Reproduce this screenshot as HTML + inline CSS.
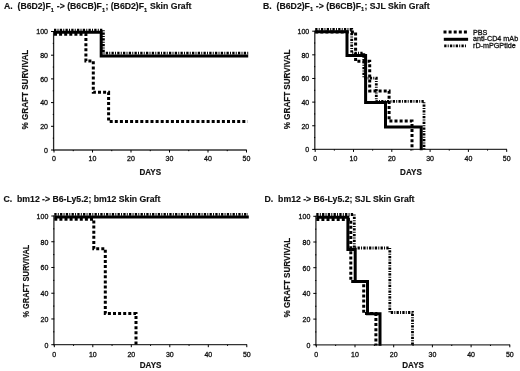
<!DOCTYPE html>
<html><head><meta charset="utf-8"><style>
html,body{margin:0;padding:0;background:#fff;}
svg{display:block;filter:blur(0.3px);}
text{font-family:"Liberation Sans",sans-serif;fill:#111;stroke:#111;stroke-width:0.15px;}
.tk{font-size:7px;stroke-width:0.3px;}
.at{font-size:8.1px;font-weight:bold;}
.ti{font-size:8.7px;font-weight:bold;}
.sb{font-size:5.6px;}
.lg{font-size:7.2px;stroke-width:0.3px;}
</style></head><body>
<svg width="520" height="371" viewBox="0 0 520 371">
<rect width="520" height="371" fill="#fff"/>
<text x="4.0" y="9.4" class="ti">A.&#160;&#160;(B6D2)F<tspan class="sb" dy="2.2">1</tspan><tspan dx="0.4" dy="-2.2"> -&gt; (B6CB)F</tspan><tspan class="sb" dy="2.2">1</tspan><tspan dx="0.4" dy="-2.2">; (B6D2)F</tspan><tspan class="sb" dy="2.2">1</tspan><tspan dx="0.4" dy="-2.2"> Skin Graft</tspan></text>
<text x="263.1" y="9.1" class="ti">B.&#160;&#160;(B6D2)F<tspan class="sb" dy="2.2">1</tspan><tspan dx="0.4" dy="-2.2"> -&gt; (B6CB)F</tspan><tspan class="sb" dy="2.2">1</tspan><tspan dx="0.4" dy="-2.2">; SJL Skin Graft</tspan></text>
<text x="3.5" y="201.7" class="ti">C.&#160;&#160;bm12 -&gt; B6-Ly5.2; bm12 Skin Graft</text>
<text x="264.6" y="201.7" class="ti">D.&#160;&#160;bm12 -&gt; B6-Ly5.2; SJL Skin Graft</text>
<path d="M53.60,31.00V150.60" fill="none" stroke="#262626" stroke-width="1.3"/>
<path d="M53.10,150.00H246.80" fill="none" stroke="#333" stroke-width="1.3"/>
<path d="M51.00,150.00H54.00" stroke="#000" stroke-width="1"/>
<text x="48.00" y="152.80" class="tk" text-anchor="end">0</text>
<path d="M52.80,138.15H54.00" stroke="#000" stroke-width="1"/>
<path d="M51.00,126.30H54.00" stroke="#000" stroke-width="1"/>
<text x="48.00" y="129.10" class="tk" text-anchor="end">20</text>
<path d="M52.80,114.45H54.00" stroke="#000" stroke-width="1"/>
<path d="M51.00,102.60H54.00" stroke="#000" stroke-width="1"/>
<text x="48.00" y="105.40" class="tk" text-anchor="end">40</text>
<path d="M52.80,90.75H54.00" stroke="#000" stroke-width="1"/>
<path d="M51.00,78.90H54.00" stroke="#000" stroke-width="1"/>
<text x="48.00" y="81.70" class="tk" text-anchor="end">60</text>
<path d="M52.80,67.05H54.00" stroke="#000" stroke-width="1"/>
<path d="M51.00,55.20H54.00" stroke="#000" stroke-width="1"/>
<text x="48.00" y="58.00" class="tk" text-anchor="end">80</text>
<path d="M52.80,43.35H54.00" stroke="#000" stroke-width="1"/>
<path d="M51.00,31.50H54.00" stroke="#000" stroke-width="1"/>
<text x="48.00" y="34.30" class="tk" text-anchor="end">100</text>
<path d="M54.00,150.00V152.50" stroke="#000" stroke-width="1"/>
<text x="54.00" y="161.00" class="tk" text-anchor="middle">0</text>
<path d="M73.25,150.00V151.20" stroke="#000" stroke-width="1"/>
<path d="M92.50,150.00V152.50" stroke="#000" stroke-width="1"/>
<text x="92.50" y="161.00" class="tk" text-anchor="middle">10</text>
<path d="M111.75,150.00V151.20" stroke="#000" stroke-width="1"/>
<path d="M131.00,150.00V152.50" stroke="#000" stroke-width="1"/>
<text x="131.00" y="161.00" class="tk" text-anchor="middle">20</text>
<path d="M150.25,150.00V151.20" stroke="#000" stroke-width="1"/>
<path d="M169.50,150.00V152.50" stroke="#000" stroke-width="1"/>
<text x="169.50" y="161.00" class="tk" text-anchor="middle">30</text>
<path d="M188.75,150.00V151.20" stroke="#000" stroke-width="1"/>
<path d="M208.00,150.00V152.50" stroke="#000" stroke-width="1"/>
<text x="208.00" y="161.00" class="tk" text-anchor="middle">40</text>
<path d="M227.25,150.00V151.20" stroke="#000" stroke-width="1"/>
<path d="M246.50,150.00V152.50" stroke="#000" stroke-width="1"/>
<text x="246.50" y="161.00" class="tk" text-anchor="middle">50</text>
<text transform="translate(150.25,174.80) scale(1,1.14)" class="at" text-anchor="middle">DAYS</text>
<text transform="translate(27.80,89.55) rotate(-90) scale(1,1.14)" class="at" style="font-size:8.1px" text-anchor="middle">% GRAFT SURVIVAL</text>
<path d="M54,30.2 H103.4 V53.2 H248.2" fill="none" stroke="#000" stroke-width="2.8" stroke-dasharray="2.3 1.2 1 1.25"/>
<path d="M54,34.3 H85.9 V61.1 H93.3 V92.3 H108.6 V121.4 H247.6" fill="none" stroke="#000" stroke-width="3" stroke-dasharray="3 2.1"/>
<path d="M54,32.3 H101.2 V56.1 H248.2" fill="none" stroke="#000" stroke-width="3"/>
<path d="M314.80,30.70V150.00" fill="none" stroke="#262626" stroke-width="1.3"/>
<path d="M314.30,149.40H507.00" fill="none" stroke="#333" stroke-width="1.3"/>
<path d="M312.20,149.40H315.20" stroke="#000" stroke-width="1"/>
<text x="309.20" y="152.20" class="tk" text-anchor="end">0</text>
<path d="M314.00,137.58H315.20" stroke="#000" stroke-width="1"/>
<path d="M312.20,125.76H315.20" stroke="#000" stroke-width="1"/>
<text x="309.20" y="128.56" class="tk" text-anchor="end">20</text>
<path d="M314.00,113.94H315.20" stroke="#000" stroke-width="1"/>
<path d="M312.20,102.12H315.20" stroke="#000" stroke-width="1"/>
<text x="309.20" y="104.92" class="tk" text-anchor="end">40</text>
<path d="M314.00,90.30H315.20" stroke="#000" stroke-width="1"/>
<path d="M312.20,78.48H315.20" stroke="#000" stroke-width="1"/>
<text x="309.20" y="81.28" class="tk" text-anchor="end">60</text>
<path d="M314.00,66.66H315.20" stroke="#000" stroke-width="1"/>
<path d="M312.20,54.84H315.20" stroke="#000" stroke-width="1"/>
<text x="309.20" y="57.64" class="tk" text-anchor="end">80</text>
<path d="M314.00,43.02H315.20" stroke="#000" stroke-width="1"/>
<path d="M312.20,31.20H315.20" stroke="#000" stroke-width="1"/>
<text x="309.20" y="34.00" class="tk" text-anchor="end">100</text>
<path d="M315.20,149.40V151.90" stroke="#000" stroke-width="1"/>
<text x="315.20" y="160.80" class="tk" text-anchor="middle">0</text>
<path d="M334.35,149.40V150.60" stroke="#000" stroke-width="1"/>
<path d="M353.50,149.40V151.90" stroke="#000" stroke-width="1"/>
<text x="353.50" y="160.80" class="tk" text-anchor="middle">10</text>
<path d="M372.65,149.40V150.60" stroke="#000" stroke-width="1"/>
<path d="M391.80,149.40V151.90" stroke="#000" stroke-width="1"/>
<text x="391.80" y="160.80" class="tk" text-anchor="middle">20</text>
<path d="M410.95,149.40V150.60" stroke="#000" stroke-width="1"/>
<path d="M430.10,149.40V151.90" stroke="#000" stroke-width="1"/>
<text x="430.10" y="160.80" class="tk" text-anchor="middle">30</text>
<path d="M449.25,149.40V150.60" stroke="#000" stroke-width="1"/>
<path d="M468.40,149.40V151.90" stroke="#000" stroke-width="1"/>
<text x="468.40" y="160.80" class="tk" text-anchor="middle">40</text>
<path d="M487.55,149.40V150.60" stroke="#000" stroke-width="1"/>
<path d="M506.70,149.40V151.90" stroke="#000" stroke-width="1"/>
<text x="506.70" y="160.80" class="tk" text-anchor="middle">50</text>
<text transform="translate(410.95,174.80) scale(1,1.14)" class="at" text-anchor="middle">DAYS</text>
<text transform="translate(290.40,89.35) rotate(-90) scale(1,1.14)" class="at" style="font-size:8.1px" text-anchor="middle">% GRAFT SURVIVAL</text>
<path d="M315.2,29.3 H351.7 V53.2 H363.8 V78.2 H376.3 V101.3 H424 V150.2" fill="none" stroke="#000" stroke-width="2.8" stroke-dasharray="2.3 1.2 1 1.25"/>
<path d="M315.2,32.0 H355.6 V61.2 H369.7 V91 H389.1 V121 H412 V150.2" fill="none" stroke="#000" stroke-width="3" stroke-dasharray="3 2.1"/>
<path d="M315.2,31.8 H347 V55.6 H365.6 V102.5 H385.5 V127.1 H421.2 V150.2" fill="none" stroke="#000" stroke-width="3"/>
<path d="M53.90,215.50V345.30" fill="none" stroke="#262626" stroke-width="1.3"/>
<path d="M53.40,344.70H247.10" fill="none" stroke="#333" stroke-width="1.3"/>
<path d="M51.30,344.70H54.30" stroke="#000" stroke-width="1"/>
<text x="48.30" y="347.50" class="tk" text-anchor="end">0</text>
<path d="M53.10,331.83H54.30" stroke="#000" stroke-width="1"/>
<path d="M51.30,318.96H54.30" stroke="#000" stroke-width="1"/>
<text x="48.30" y="321.76" class="tk" text-anchor="end">20</text>
<path d="M53.10,306.09H54.30" stroke="#000" stroke-width="1"/>
<path d="M51.30,293.22H54.30" stroke="#000" stroke-width="1"/>
<text x="48.30" y="296.02" class="tk" text-anchor="end">40</text>
<path d="M53.10,280.35H54.30" stroke="#000" stroke-width="1"/>
<path d="M51.30,267.48H54.30" stroke="#000" stroke-width="1"/>
<text x="48.30" y="270.28" class="tk" text-anchor="end">60</text>
<path d="M53.10,254.61H54.30" stroke="#000" stroke-width="1"/>
<path d="M51.30,241.74H54.30" stroke="#000" stroke-width="1"/>
<text x="48.30" y="244.54" class="tk" text-anchor="end">80</text>
<path d="M53.10,228.87H54.30" stroke="#000" stroke-width="1"/>
<path d="M51.30,216.00H54.30" stroke="#000" stroke-width="1"/>
<text x="48.30" y="218.80" class="tk" text-anchor="end">100</text>
<path d="M54.30,344.70V347.20" stroke="#000" stroke-width="1"/>
<text x="54.30" y="356.50" class="tk" text-anchor="middle">0</text>
<path d="M73.55,344.70V345.90" stroke="#000" stroke-width="1"/>
<path d="M92.80,344.70V347.20" stroke="#000" stroke-width="1"/>
<text x="92.80" y="356.50" class="tk" text-anchor="middle">10</text>
<path d="M112.05,344.70V345.90" stroke="#000" stroke-width="1"/>
<path d="M131.30,344.70V347.20" stroke="#000" stroke-width="1"/>
<text x="131.30" y="356.50" class="tk" text-anchor="middle">20</text>
<path d="M150.55,344.70V345.90" stroke="#000" stroke-width="1"/>
<path d="M169.80,344.70V347.20" stroke="#000" stroke-width="1"/>
<text x="169.80" y="356.50" class="tk" text-anchor="middle">30</text>
<path d="M189.05,344.70V345.90" stroke="#000" stroke-width="1"/>
<path d="M208.30,344.70V347.20" stroke="#000" stroke-width="1"/>
<text x="208.30" y="356.50" class="tk" text-anchor="middle">40</text>
<path d="M227.55,344.70V345.90" stroke="#000" stroke-width="1"/>
<path d="M246.80,344.70V347.20" stroke="#000" stroke-width="1"/>
<text x="246.80" y="356.50" class="tk" text-anchor="middle">50</text>
<text transform="translate(150.55,367.50) scale(1,1.14)" class="at" text-anchor="middle">DAYS</text>
<text transform="translate(29.10,281.10) rotate(-90) scale(1,1.14)" class="at" style="font-size:7.4px" text-anchor="middle">% GRAFT SURVIVAL</text>
<path d="M54.3,214.3 H248" fill="none" stroke="#000" stroke-width="2.8" stroke-dasharray="2.3 1.2 1 1.25"/>
<path d="M54.3,219.2 H93.8 V248.7 H105.3 V313.5 H136 V345.5" fill="none" stroke="#000" stroke-width="3" stroke-dasharray="3 2.1"/>
<path d="M54.3,217 H248.8" fill="none" stroke="#000" stroke-width="3"/>
<path d="M315.90,215.80V345.40" fill="none" stroke="#262626" stroke-width="1.3"/>
<path d="M315.40,344.80H510.10" fill="none" stroke="#333" stroke-width="1.3"/>
<path d="M313.30,344.80H316.30" stroke="#000" stroke-width="1"/>
<text x="310.30" y="347.60" class="tk" text-anchor="end">0</text>
<path d="M315.10,331.95H316.30" stroke="#000" stroke-width="1"/>
<path d="M313.30,319.10H316.30" stroke="#000" stroke-width="1"/>
<text x="310.30" y="321.90" class="tk" text-anchor="end">20</text>
<path d="M315.10,306.25H316.30" stroke="#000" stroke-width="1"/>
<path d="M313.30,293.40H316.30" stroke="#000" stroke-width="1"/>
<text x="310.30" y="296.20" class="tk" text-anchor="end">40</text>
<path d="M315.10,280.55H316.30" stroke="#000" stroke-width="1"/>
<path d="M313.30,267.70H316.30" stroke="#000" stroke-width="1"/>
<text x="310.30" y="270.50" class="tk" text-anchor="end">60</text>
<path d="M315.10,254.85H316.30" stroke="#000" stroke-width="1"/>
<path d="M313.30,242.00H316.30" stroke="#000" stroke-width="1"/>
<text x="310.30" y="244.80" class="tk" text-anchor="end">80</text>
<path d="M315.10,229.15H316.30" stroke="#000" stroke-width="1"/>
<path d="M313.30,216.30H316.30" stroke="#000" stroke-width="1"/>
<text x="310.30" y="219.10" class="tk" text-anchor="end">100</text>
<path d="M316.30,344.80V347.30" stroke="#000" stroke-width="1"/>
<text x="316.30" y="356.50" class="tk" text-anchor="middle">0</text>
<path d="M335.65,344.80V346.00" stroke="#000" stroke-width="1"/>
<path d="M355.00,344.80V347.30" stroke="#000" stroke-width="1"/>
<text x="355.00" y="356.50" class="tk" text-anchor="middle">10</text>
<path d="M374.35,344.80V346.00" stroke="#000" stroke-width="1"/>
<path d="M393.70,344.80V347.30" stroke="#000" stroke-width="1"/>
<text x="393.70" y="356.50" class="tk" text-anchor="middle">20</text>
<path d="M413.05,344.80V346.00" stroke="#000" stroke-width="1"/>
<path d="M432.40,344.80V347.30" stroke="#000" stroke-width="1"/>
<text x="432.40" y="356.50" class="tk" text-anchor="middle">30</text>
<path d="M451.75,344.80V346.00" stroke="#000" stroke-width="1"/>
<path d="M471.10,344.80V347.30" stroke="#000" stroke-width="1"/>
<text x="471.10" y="356.50" class="tk" text-anchor="middle">40</text>
<path d="M490.45,344.80V346.00" stroke="#000" stroke-width="1"/>
<path d="M509.80,344.80V347.30" stroke="#000" stroke-width="1"/>
<text x="509.80" y="356.50" class="tk" text-anchor="middle">50</text>
<text transform="translate(413.05,367.50) scale(1,1.14)" class="at" text-anchor="middle">DAYS</text>
<text transform="translate(290.10,277.60) rotate(-90) scale(1,1.14)" class="at" style="font-size:8.1px" text-anchor="middle">% GRAFT SURVIVAL</text>
<path d="M316.3,214.5 H354.3 V248 H389.8 V312.5 H412.5 V345.6" fill="none" stroke="#000" stroke-width="2.8" stroke-dasharray="2.3 1.2 1 1.25"/>
<path d="M316.3,219.5 H350.8 V281.5 H363.7 V313.6 H375.9 V345.6" fill="none" stroke="#000" stroke-width="3" stroke-dasharray="3 2.1"/>
<path d="M316.3,217.3 H347.9 V249.4 H355.2 V281.6 H367.5 V313.8 H380 V345.8" fill="none" stroke="#000" stroke-width="3"/>
<path d="M443.5,32.1H467.5" fill="none" stroke="#000" stroke-width="3" stroke-dasharray="3 2.1"/>
<path d="M443.8,39.3H468.1" fill="none" stroke="#000" stroke-width="3"/>
<path d="M444.2,45.9H466.6" fill="none" stroke="#000" stroke-width="2.8" stroke-dasharray="2.3 1.2 1 1.25"/>
<text x="473" y="34.6" class="lg">PBS</text>
<text x="473" y="41.4" class="lg">anti-CD4 mAb</text>
<text x="473" y="47.8" class="lg">rD-mPGPtide</text>
</svg>
</body></html>
